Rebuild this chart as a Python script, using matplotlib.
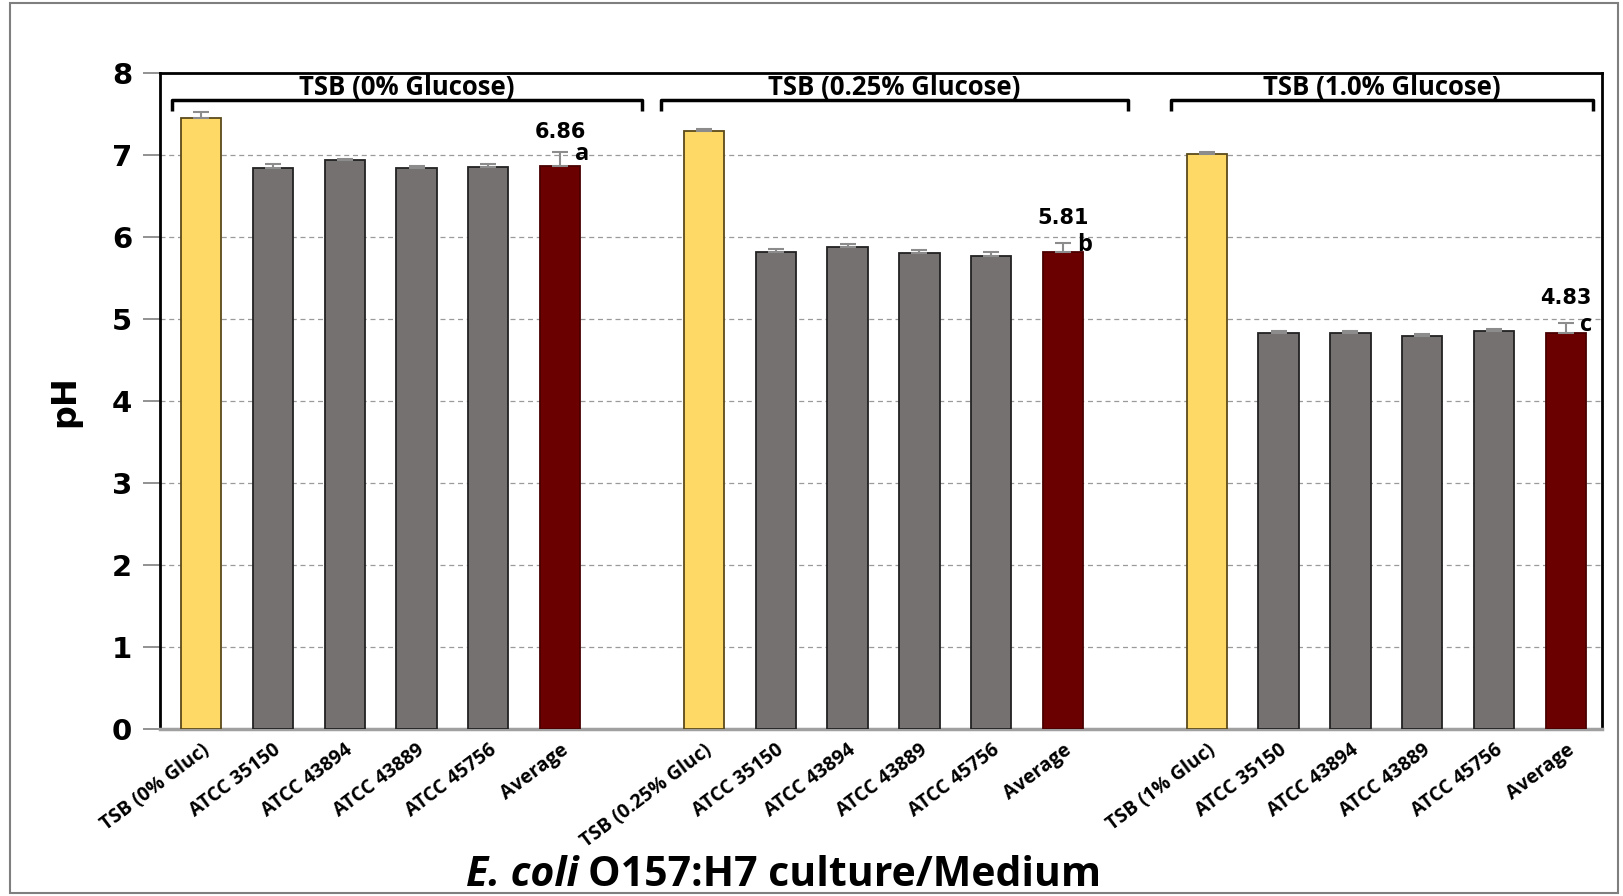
import numpy as np
import matplotlib.pyplot as plt
from matplotlib.patches import Rectangle

# pH of E. coli O157:H7 cultures in TSB with three glucose levels
groups = ["TSB (0% Glucose)", "TSB (0.25% Glucose)", "TSB (1.0% Glucose)"]
tick_labels = [
    "TSB (0% Gluc)", "ATCC 35150", "ATCC 43894", "ATCC 43889", "ATCC 45756", "Average",
    "TSB (0.25% Gluc)", "ATCC 35150", "ATCC 43894", "ATCC 43889", "ATCC 45756", "Average",
    "TSB (1% Gluc)", "ATCC 35150", "ATCC 43894", "ATCC 43889", "ATCC 45756", "Average",
]
ph_0 = [7.45, 6.84, 6.93, 6.84, 6.85, 6.86]
ph_025 = [7.29, 5.81, 5.87, 5.80, 5.76, 5.81]
ph_10 = [7.01, 4.83, 4.83, 4.79, 4.85, 4.83]
err_0 = [0.07, 0.05, 0.02, 0.02, 0.04, 0.17]
err_025 = [0.02, 0.04, 0.04, 0.04, 0.06, 0.11]
err_10 = [0.02, 0.02, 0.02, 0.02, 0.02, 0.12]
letters = ["a", "b", "c"]

yellow = "#FFD966"
grey = "#767171"
maroon = "#6B0000"
sans = "Open Sans"

fig = plt.figure(figsize=(16.23, 8.96), dpi=100)
ax = fig.add_axes([0.0986, 0.1864, 0.8884, 0.7325])

values = [ph_0, ph_025, ph_10]
errors = [err_0, err_025, err_10]
xs_all = []
for g in range(3):
    x = np.arange(6) + 7 * g
    xs_all.extend(x)
    colors = [yellow] + [grey] * 4 + [maroon]
    edges = ["#5a4a1a"] + ["#222222"] * 4 + ["#4a0000"]
    ax.bar(x, values[g], width=0.56, color=colors, edgecolor=edges, linewidth=1.3, zorder=3)
    ax.errorbar(x, values[g], yerr=[np.zeros(6), errors[g]], fmt="none",
                ecolor="#8c8c8c", elinewidth=1.5, capsize=6, capthick=1.5, zorder=4)
    # mean value and significance letter over the average bar
    avg = values[g][5]
    top = avg + errors[g][5]
    ax.text(x[5], avg + 0.42, f"{avg:.2f}", ha="center", va="center",
            fontsize=15, fontweight="bold", family="DejaVu Sans")
    ax.text(x[5] + 0.2, top - 0.02, letters[g], ha="left", va="center",
            fontsize=17, fontweight="bold", family=sans)

# group brackets with titles
brackets = [(-0.4, 6.14), (6.4, 12.9), (13.5, 19.37)]
for (x0, x1), name in zip(brackets, groups):
    ax.plot([x0, x0, x1, x1], [7.53, 7.67, 7.67, 7.53], color="black", lw=2.5,
            solid_capstyle="butt", zorder=5)
    ax.text((x0 + x1) / 2, 7.66, name, ha="center", va="bottom",
            fontsize=18.5, fontweight="bold", family=sans)

ax.set_xlim(-0.57, 19.5)
ax.set_ylim(0, 8)
ax.set_yticks(range(9))
ax.set_yticklabels([str(i) for i in range(9)], fontsize=21, fontweight="bold",
                   family="DejaVu Sans")
ax.yaxis.grid(True, linestyle=(0, (4, 3)), color="#9a9a9a", linewidth=0.9, zorder=0)
ax.tick_params(axis="y", length=12, width=1.2, color="#7f7f7f", pad=8)
ax.set_xticks(xs_all)
ax.set_xticklabels(tick_labels, rotation=37, ha="right", rotation_mode="anchor",
                   fontsize=14, fontweight="bold", family=sans)
ax.tick_params(axis="x", length=0, pad=8)

for side in ["left", "top", "right"]:
    ax.spines[side].set_color("black")
    ax.spines[side].set_linewidth(2)
ax.spines["bottom"].set_color("#a0a0a0")
ax.spines["bottom"].set_linewidth(2.5)

ax.set_ylabel("pH", fontsize=24, fontweight="bold", family="DejaVu Sans", labelpad=22)

# x-axis title with the species name in italics
t1 = fig.text(0.287, 0.023, "E. coli", fontsize=29.5, fontweight="bold", style="italic",
              family=sans, ha="left", va="center")
fig.canvas.draw()
bb = t1.get_window_extent()
fig.text((bb.x1 + 10) / fig.bbox.width, 0.023, "O157:H7 culture/Medium", fontsize=29.5,
         fontweight="bold", family=sans, ha="left", va="center")

fig.patches.append(Rectangle((0.006, 0.003), 0.991, 0.994, transform=fig.transFigure,
                             fill=False, edgecolor="#7f7f7f", linewidth=1.5))

fig.savefig("out.png", dpi=100)
